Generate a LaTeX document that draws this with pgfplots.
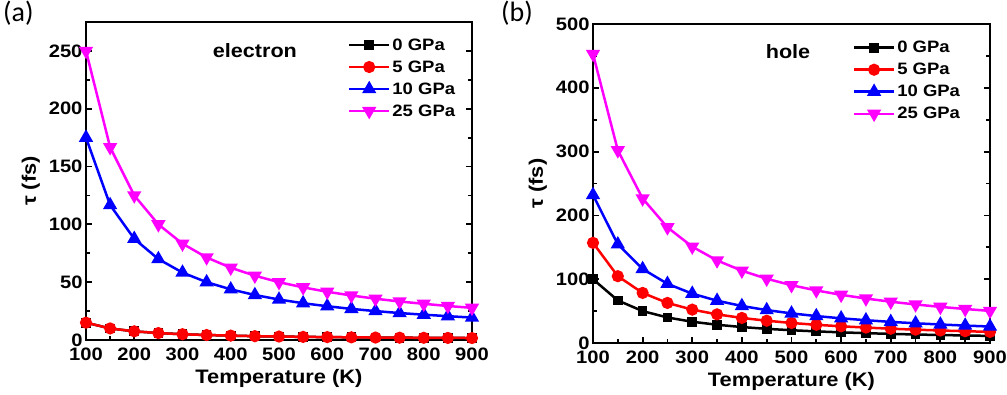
\documentclass[border=0pt]{standalone}
\usepackage{fontspec}
\setmainfont{Liberation Sans}[FakeStretch=1.12]
\newfontfamily\labelfont{Carlito}
\usepackage{pgfplots}
\pgfplotsset{compat=1.18}
\definecolor{mag}{RGB}{255,0,255}
\begin{document}
\begin{tikzpicture}
\useasboundingbox (0pt,-395pt) rectangle (1007pt,0pt);
\pgfplotsset{
  myax/.style={
    scale only axis,
    anchor=south west,
    xmin=100, xmax=900,
    xtick={100,200,...,900},
    minor x tick num=1,
    minor y tick num=1,
    xtick pos=bottom,
    ytick pos=both,
    tick align=inside,
    major tick length=6pt,
    minor tick length=4pt,
    every tick/.style={black, line width=1.8pt},
    axis line style={line width=2.6pt},
    tick label style={font=\fontsize{18}{20}\selectfont\bfseries},
    xticklabel style={yshift=-4pt},
    /pgf/number format/assume math mode=true,
    label style={font=\fontsize{19.5}{22}\selectfont\bfseries},
    xlabel={Temperature (K)},
    ylabel={τ (fs)},
    xlabel style={yshift=-2pt},
    ylabel style={yshift=2pt},
    legend cell align=left,
    legend style={draw=none, fill=none, font=\fontsize{16.5}{19}\selectfont\bfseries, row sep=5pt, inner sep=0pt},
    legend image code/.code={\draw[mark repeat=2,mark phase=2] plot coordinates {(0pt,0pt) (20pt,0pt) (40pt,0pt)};},
    every axis plot/.append style={line width=2.5pt},
  },
}
\pgfplotstableread{
T    p0    p5   p10    p25
100  15.0  15.0 175.0 250.0
150  10.0  10.0 116.7 166.7
200  7.5   7.5  87.5  125.0
250  6.0   6.0  70.0  100.0
300  5.0   5.0  58.3  83.3
350  4.3   4.3  50.0  71.4
400  3.8   3.8  43.8  62.5
450  3.3   3.3  38.9  55.6
500  3.0   3.0  35.0  50.0
550  2.7   2.7  31.8  45.5
600  2.5   2.5  29.2  41.7
650  2.3   2.3  26.9  38.5
700  2.1   2.1  25.0  35.7
750  2.0   2.0  23.3  33.3
800  1.9   1.9  21.9  31.3
850  1.8   1.8  20.6  29.4
900  1.7   1.7  19.4  27.8
}\electron
\pgfplotstableread{
T    p0    p5    p10    p25
100  100.0 157.0 232.0  453.0
150  66.7  104.7 154.7  302.0
200  50.0  78.5  116.0  226.5
250  40.0  62.8  92.8   181.2
300  33.3  52.3  77.3   151.0
350  28.6  44.9  66.3   129.4
400  25.0  39.3  58.0   113.3
450  22.2  34.9  51.6   100.7
500  20.0  31.4  46.4   90.6
550  18.2  28.5  42.2   82.4
600  16.7  26.2  38.7   75.5
650  15.4  24.2  35.7   69.7
700  14.3  22.4  33.1   64.7
750  13.3  20.9  30.9   60.4
800  12.5  19.6  29.0   56.6
850  11.8  18.5  27.3   53.3
900  11.1  17.4  25.8   50.3
}\hole
% panel (a)
\begin{axis}[myax, at={(86pt,-340pt)}, width=386pt, height=318pt,
  ymin=0, ymax=275, ytick={0,50,...,250},
  legend style={at={(0.962,0.955)}, anchor=north east}]
\addplot[black, mark=square*, mark size=3.6pt] table[x=T,y=p0] {\electron};
\addplot[red, mark=*, mark size=4.8pt] table[x=T,y=p5] {\electron};
\addplot[blue, mark=triangle*, mark size=5.8pt] table[x=T,y=p10] {\electron};
\addplot[mag, mark=triangle*, mark options={rotate=180}, mark size=5.8pt] table[x=T,y=p25] {\electron};
\legend{0 GPa,5 GPa,10 GPa,25 GPa}
\node[font=\fontsize{19.3}{22}\selectfont\bfseries] at (axis cs:450,250) {electron};
\end{axis}
% panel (b)
\begin{axis}[myax, at={(593pt,-343pt)}, width=397pt, height=319pt,
  ymin=0, ymax=500, ytick={0,100,...,500},
  legend style={at={(0.93,0.953)}, anchor=north east}]
\addplot[black, mark=square*, mark size=3.6pt] table[x=T,y=p0] {\hole};
\addplot[red, mark=*, mark size=4.8pt] table[x=T,y=p5] {\hole};
\addplot[blue, mark=triangle*, mark size=5.8pt] table[x=T,y=p10] {\hole};
\addplot[mag, mark=triangle*, mark options={rotate=180}, mark size=5.8pt] table[x=T,y=p25] {\hole};
\legend{0 GPa,5 GPa,10 GPa,25 GPa}
\node[font=\fontsize{19.3}{22}\selectfont\bfseries] at (axis cs:493,456) {hole};
\end{axis}
\node[font=\labelfont\fontsize{28}{30}\selectfont, anchor=north west, inner sep=0pt] at (3pt,-1pt) {(a)};
\node[font=\labelfont\fontsize{28}{30}\selectfont, anchor=north west, inner sep=0pt] at (501pt,-1pt) {(b)};
\end{tikzpicture}
\end{document}
